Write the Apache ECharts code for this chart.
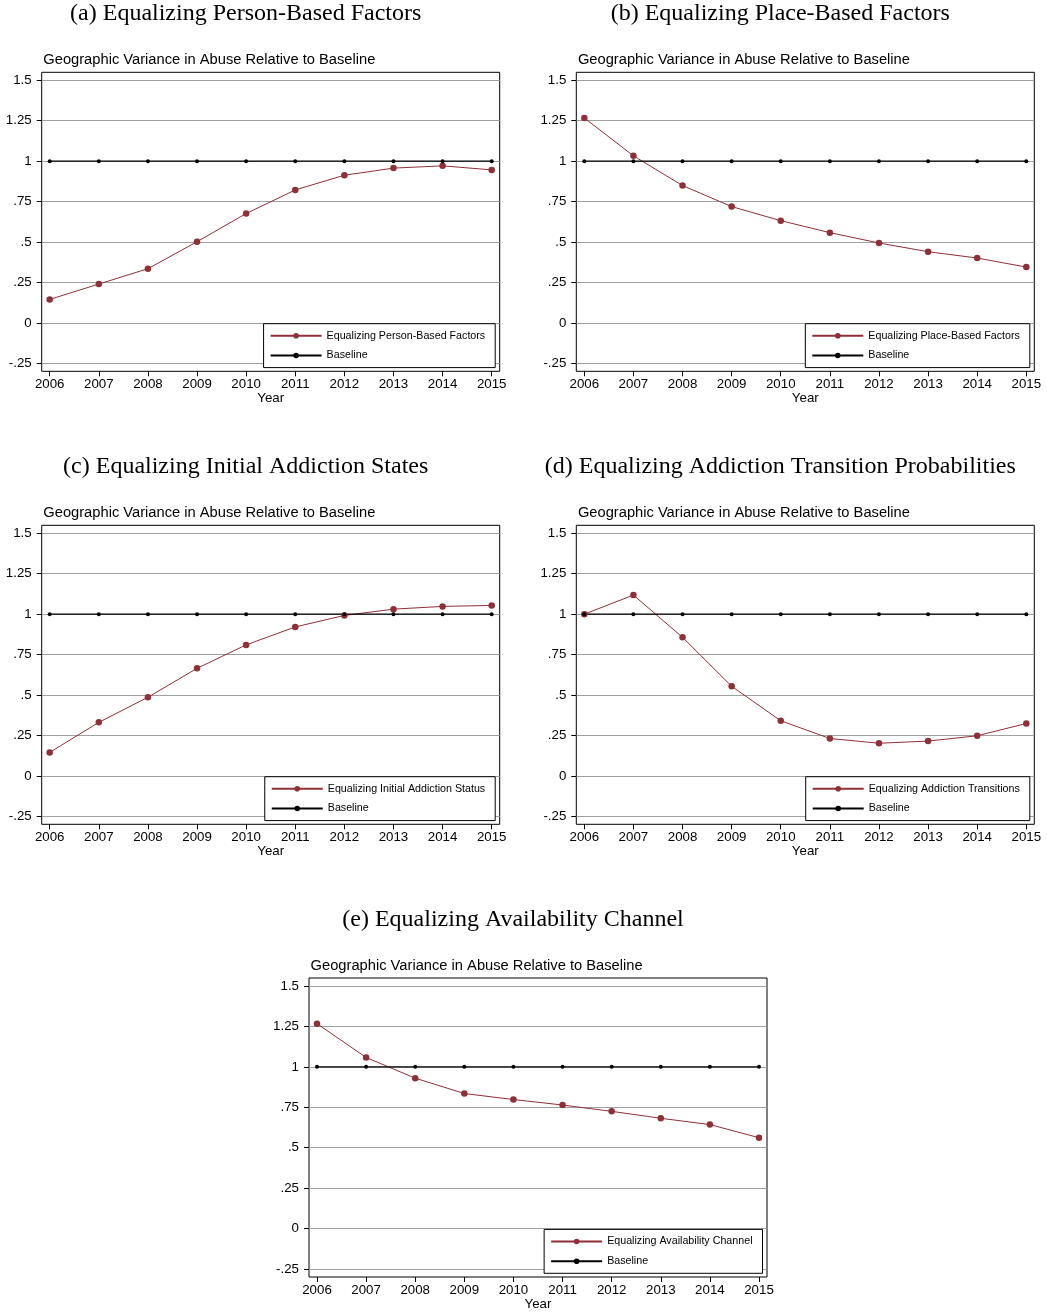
<!DOCTYPE html>
<html>
<head>
<meta charset="utf-8">
<title>Geographic Variance in Abuse Relative to Baseline</title>
<script src="https://cdn.jsdelivr.net/npm/echarts@6/dist/echarts.min.js"></script>
<style>
  html, body { margin: 0; padding: 0; background: #fff; }
  #main { width: 1047px; height: 1314px; }
</style>
</head>
<body>
<div id="main"></div>
<script>
// values
var years = [2006, 2007, 2008, 2009, 2010, 2011, 2012, 2013, 2014, 2015];
var baseline = [1, 1, 1, 1, 1, 1, 1, 1, 1, 1];
var personBased = [0.145, 0.240, 0.335, 0.502, 0.676, 0.822, 0.913, 0.957, 0.971, 0.946];
var placeBased = [1.267, 1.033, 0.849, 0.719, 0.632, 0.558, 0.494, 0.440, 0.401, 0.345];
var initialStates = [0.145, 0.331, 0.486, 0.665, 0.810, 0.921, 0.992, 1.031, 1.048, 1.054];
var transitions = [1.0, 1.118, 0.857, 0.554, 0.341, 0.231, 0.202, 0.215, 0.248, 0.324];
var availability = [1.267, 1.058, 0.930, 0.835, 0.798, 0.764, 0.725, 0.682, 0.643, 0.562];

var captions = [
  "(a) Equalizing Person-Based Factors",
  "(b) Equalizing Place-Based Factors",
  "(c) Equalizing Initial Addiction States",
  "(d) Equalizing Addiction Transition Probabilities",
  "(e) Equalizing Availability Channel"
];
var seriesNames = [
  "Equalizing Person-Based Factors",
  "Equalizing Place-Based Factors",
  "Equalizing Initial Addiction Status",
  "Equalizing Addiction Transitions",
  "Equalizing Availability Channel"
];
var seriesValues = [personBased, placeBased, initialStates, transitions, availability];
var plotTitle = "Geographic Variance in Abuse Relative to Baseline";

// frame (plot region) top-left corners
var frames = [
  { x: 41.7, y: 72.3 },
  { x: 576.3, y: 72.3 },
  { x: 41.7, y: 525.3 },
  { x: 576.3, y: 525.3 },
  { x: 309, y: 978 }
];
var W = 1047;
var FW = 458, FH = 299, PAD = 8;
var RED = "#8f2f37";
var SANS = "'Liberation Sans', Arial, sans-serif";
var SERIF = "'Liberation Serif', 'Times New Roman', serif";

function yFmt(v) {
  if (v === 0) return "0";
  return String(v).replace(/^(-?)0\./, "$1.");
}

var grid = [], xAxis = [], yAxis = [], series = [], legend = [], title = [], graphic = [];

frames.forEach(function (f, i) {
  var g0 = 3 * i, g1 = 3 * i + 1, g2 = 3 * i + 2;
  // frame box
  grid.push({ left: f.x, top: f.y, width: FW, height: FH, show: true,
    borderColor: "#000", borderWidth: 1, backgroundColor: "transparent" });
  // gridlines spanning the full frame width
  grid.push({ left: f.x, top: f.y + PAD, width: FW, height: FH - 2 * PAD });
  // data area
  grid.push({ left: f.x + PAD, top: f.y + PAD, width: FW - 2 * PAD, height: FH - 2 * PAD });

  xAxis.push({ gridIndex: g0, type: "value", show: false, min: 0, max: 1 });
  yAxis.push({ gridIndex: g0, type: "value", show: false, min: 0, max: 1 });

  xAxis.push({ gridIndex: g1, type: "value", show: false, min: 0, max: 1 });
  yAxis.push({
    gridIndex: g1, type: "value", min: -0.25, max: 1.5, interval: 0.25,
    axisLine: { show: false },
    axisTick: { show: true, inside: false, length: 5, lineStyle: { color: "#000", width: 1 } },
    axisLabel: { formatter: yFmt, margin: 10, color: "#000", fontSize: 13.3, fontFamily: SANS },
    splitLine: { show: true, lineStyle: { color: "#a0a0a0", width: 1 } }
  });

  xAxis.push({
    gridIndex: g2, type: "value", min: 2006, max: 2015, interval: 1, offset: PAD,
    name: "Year", nameLocation: "middle", nameGap: 21, nameMoveOverlap: false,
    nameTextStyle: { color: "#000", fontSize: 13.3, fontFamily: SANS },
    axisLine: { show: false, onZero: false },
    axisTick: { show: true, inside: false, length: 5, lineStyle: { color: "#000", width: 1 } },
    axisLabel: { formatter: function (v) { return String(v); }, margin: 7,
      color: "#000", fontSize: 13.3, fontFamily: SANS },
    splitLine: { show: false }
  });
  yAxis.push({ gridIndex: g2, type: "value", show: false, min: -0.25, max: 1.5,
    splitLine: { show: false } });

  series.push({
    name: seriesNames[i], type: "line", xAxisIndex: g2, yAxisIndex: g2,
    data: years.map(function (y, k) { return [y, seriesValues[i][k]]; }),
    symbol: "circle", symbolSize: 6.5,
    lineStyle: { color: RED, width: 1 }, itemStyle: { color: RED }
  });
  series.push({
    name: "Baseline", type: "line", xAxisIndex: g2, yAxisIndex: g2,
    data: years.map(function (y, k) { return [y, baseline[k]]; }),
    symbol: "circle", symbolSize: 4,
    lineStyle: { color: "#000", width: 1.3 }, itemStyle: { color: "#000" }
  });

  // legend box sits in the lower right corner of the frame
  legend.push({
    orient: "vertical", right: W - (f.x + FW - 4.5), top: f.y + 251.4,
    data: [seriesNames[i], "Baseline"],
    itemWidth: 51, itemHeight: 7, itemGap: 8.7,
    padding: [6.6, 10, 6.6, 6],
    borderColor: "#000", borderWidth: 1, backgroundColor: "#fff",
    textStyle: { color: "#000", fontSize: 10.7, fontFamily: SANS },
    selectedMode: false
  });

  title.push({
    text: plotTitle, left: f.x + 1.6, top: f.y - 20, padding: 0,
    textStyle: { color: "#000", fontSize: 14.7, fontWeight: "normal", fontFamily: SANS }
  });

  graphic.push({
    type: "text", x: f.x + 204, y: f.y - 58.5,
    style: { text: captions[i], fill: "#000", font: "24px " + SERIF,
      textAlign: "center", textVerticalAlign: "middle" }
  });
});

var chart = echarts.init(document.getElementById("main"));
chart.setOption({
  animation: false,
  backgroundColor: "#fff",
  title: title,
  legend: legend,
  grid: grid,
  xAxis: xAxis,
  yAxis: yAxis,
  series: series,
  graphic: graphic
});
</script>
</body>
</html>
